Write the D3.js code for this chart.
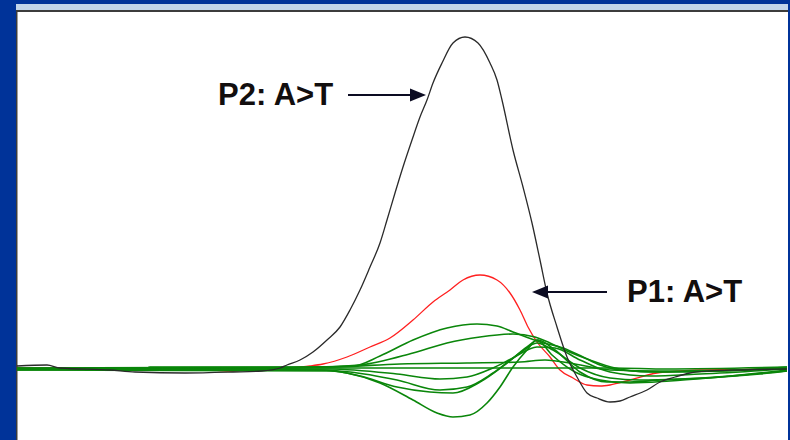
<!DOCTYPE html>
<html>
<head>
<meta charset="utf-8">
<script src="https://cdn.jsdelivr.net/npm/d3@7"></script>
<style>
  html, body { margin: 0; padding: 0; background: #003399; }
  svg { display: block; }
</style>
</head>
<body>
<svg id="chart" width="790" height="440"></svg>
<script>
// Trace samples: [scan position, signal amplitude]
const traceP2 = [[0,2],[30,3],[43,0],[93,-2],[118,-4],[168,-5],[216,-4],[245,-3],[263,0],[270,3],[283,8],[296,16],[310,28],[323,41],[333,58],[343,78],[353,101],[363,125],[370,148],[378,175],[386,201],[395,228],[403,251],[410,268],[416,285],[425,305],[436,325],[448,331],[461,325],[473,305],[480,288],[485,268],[496,218],[506,181],[515,145],[523,108],[530,75],[540,41],[550,11],[560,-9],[570,-25],[580,-30],[593,-34],[603,-33],[613,-29],[630,-22],[643,-14],[658,-9],[673,-5],[693,-3],[723,-2],[770,-1]];

const traceP1 = [[0,0],[183,-1],[213,-3],[233,-2],[273,0],[293,2],[306,4],[330,11],[353,21],[373,30],[396,48],[416,66],[433,78],[446,88],[463,93],[480,88],[493,75],[503,58],[511,41],[520,26],[533,11],[543,-2],[556,-10],[570,-17],[583,-18],[593,-17],[613,-12],[640,-5],[650,-4],[683,-2],[770,-1]];

const controlTraces = [
  [[0,-1],[128,-1],[133,1],[283,1],[336,2],[363,12],[396,28],[430,40],[460,44],[480,42],[496,36],[523,26],[546,20],[566,11],[583,3],[603,-2],[643,-4],[703,-3],[770,1]],
  [[0,-2],[273,0],[343,3],[396,15],[430,25],[463,31],[496,34],[518,31],[533,25],[550,17],[573,8],[598,0],[633,-4],[703,-3],[770,0]],
  [[0,0],[313,1],[383,4],[450,5],[503,6],[528,8],[558,4],[593,-2],[643,-3],[770,-1]],
  [[0,-1],[200,0],[596,0],[650,-1],[770,1]],
  [[0,0],[313,-1],[380,-6],[423,-11],[450,-9],[476,0],[496,10],[520,21],[538,20],[563,8],[593,-4],[633,-8],[683,-6],[770,-1]],
  [[0,-1],[303,-2],[333,-4],[380,-12],[423,-22],[450,-19],[476,-5],[503,15],[520,25],[536,18],[563,0],[593,-10],[623,-12],[663,-11],[713,-8],[770,-2]],
  [[0,-2],[313,-3],[343,-8],[380,-19],[413,-24],[436,-25],[463,-14],[490,5],[510,21],[521,28],[538,18],[563,-4],[590,-14],[613,-14],[643,-12],[690,-10],[743,-6],[770,-3]],
  [[0,-1],[303,-2],[330,-5],[363,-15],[396,-32],[420,-45],[436,-49],[453,-47],[470,-35],[483,-19],[496,1],[510,18],[520,28],[535,13],[558,-4],[583,-12],[613,-15],[653,-13],[703,-9],[770,-3]]
];

const labels = ["P2: A>T", "P1: A>T"];

const svg = d3.select("#chart");
const W = 790, H = 440;

// Window frame
svg.append("rect").attr("x", 0).attr("y", 0).attr("width", W).attr("height", H).attr("fill", "#003399");
svg.append("rect").attr("x", 16).attr("y", 4).attr("width", 772).attr("height", 7).attr("fill", "#c2d5ea");
svg.append("rect").attr("x", 16).attr("y", 10).attr("width", 772).attr("height", H - 10).attr("fill", "#3c3c3c");
svg.append("rect").attr("x", 17.5).attr("y", 12).attr("width", 770.5).attr("height", H - 12).attr("fill", "#ffffff");

const x = d3.scaleLinear().domain([0, 770]).range([17, 787]);
const y = d3.scaleLinear().domain([-72, 358]).range([440, 10]);

const line = d3.line()
  .x(d => x(d[0]))
  .y(d => y(d[1]))
  .curve(d3.curveMonotoneX);

const plot = svg.append("g");

plot.append("path").datum(traceP1)
  .attr("d", line).attr("fill", "none")
  .attr("stroke", "#ff2020").attr("stroke-width", 1.3);

plot.selectAll(".ctrl").data(controlTraces).join("path")
  .attr("class", "ctrl")
  .attr("d", line).attr("fill", "none")
  .attr("stroke", "#0a860a").attr("stroke-width", 1.6);

plot.append("path").datum(traceP2)
  .attr("d", line).attr("fill", "none")
  .attr("stroke", "#2a2a2a").attr("stroke-width", 1.3);

// Annotations
const ink = "#0c0c22";
function arrow(x1, x2, yy) {
  const dir = Math.sign(x2 - x1);
  const headLen = 16, half = 6.5;
  svg.append("line")
    .attr("x1", x1).attr("y1", yy)
    .attr("x2", x2 - dir * headLen + dir * 2).attr("y2", yy)
    .attr("stroke", ink).attr("stroke-width", 2);
  svg.append("path")
    .attr("d", `M${x2},${yy} L${x2 - dir * headLen},${yy - half} L${x2 - dir * headLen},${yy + half} Z`)
    .attr("fill", ink);
}

svg.append("text").attr("x", 218).attr("y", 105)
  .attr("font-family", "Liberation Sans, Arial, sans-serif")
  .attr("font-weight", "bold").attr("font-size", 31)
  .attr("fill", "#120e0e").text(labels[0]);
arrow(348, 426, 95);

svg.append("text").attr("x", 627).attr("y", 302)
  .attr("font-family", "Liberation Sans, Arial, sans-serif")
  .attr("font-weight", "bold").attr("font-size", 31)
  .attr("fill", "#120e0e").text(labels[1]);
arrow(607, 532, 292);
</script>
</body>
</html>
